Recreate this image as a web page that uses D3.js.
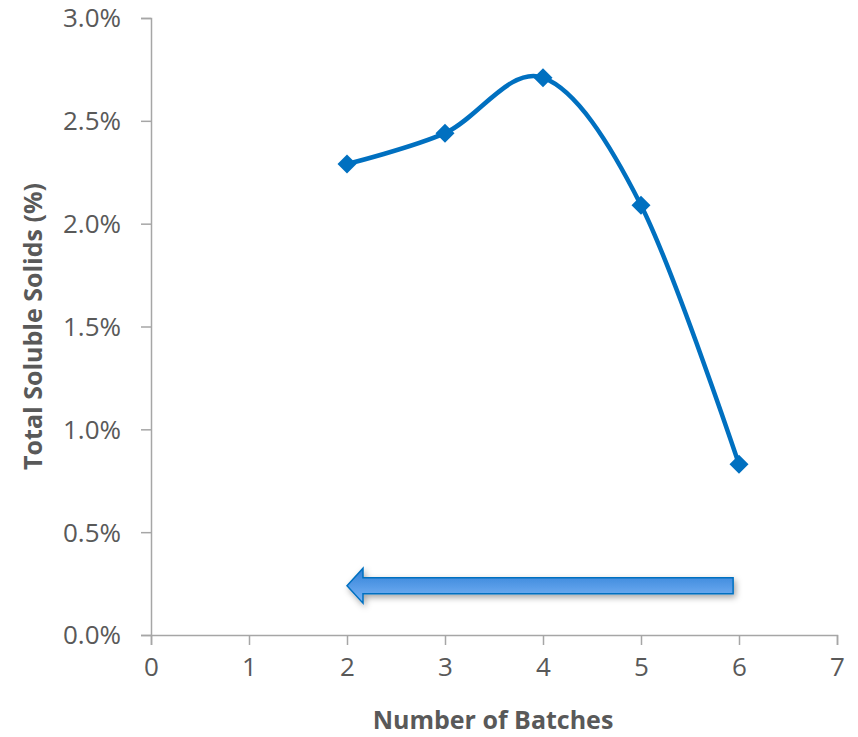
<!DOCTYPE html>
<html>
<head>
<meta charset="utf-8">
<script src="https://cdn.jsdelivr.net/npm/d3@7"></script>
<style>
  body { margin: 0; background: #fff; }
  svg text { font-family: "Open Sans", "Liberation Sans", sans-serif; fill: #595959; }
</style>
</head>
<body>
<div id="chart"></div>
<script>
// data
const batches = [2, 3, 4, 5, 6];
const solids = [0.0229, 0.0244, 0.0271, 0.0209, 0.0083];
const xTicks = [0, 1, 2, 3, 4, 5, 6, 7];
const yTicks = [0, 0.005, 0.01, 0.015, 0.02, 0.025, 0.03];
// arrow annotation: from batch 5.94 back to batch 2 at ~0.24%
const arrowFrom = [5.94, 0.0024];
const arrowTo = [2, 0.0024];

const width = 858, height = 737;
const margin = { top: 18, right: 21, bottom: 102, left: 151 };

const svg = d3.select("#chart").append("svg")
  .attr("width", width)
  .attr("height", height);

const x = d3.scaleLinear().domain([0, 7]).range([margin.left, width - margin.right]);
const y = d3.scaleLinear().domain([0, 0.03]).range([height - margin.bottom, margin.top]);

// axes
const xAxis = svg.append("g")
  .attr("transform", `translate(0,${y(0)})`)
  .call(d3.axisBottom(x).tickValues(xTicks).tickFormat(d3.format("d")).tickSize(10).tickPadding(13));

const yAxis = svg.append("g")
  .attr("transform", `translate(${x(0)},0)`)
  .call(d3.axisLeft(y).tickValues(yTicks).tickFormat(d3.format(".1%")).tickSize(10).tickPadding(20));

[xAxis, yAxis].forEach(g => {
  g.select(".domain").attr("stroke", "#a6a6a6").attr("stroke-width", 1.5);
  g.selectAll(".tick line").attr("stroke", "#a6a6a6").attr("stroke-width", 1.5);
  g.selectAll(".tick text").style("font-size", "26px").attr("fill", "#595959");
});
yAxis.selectAll(".tick text").attr("dy", "0.34em");

// axis titles
svg.append("text")
  .attr("x", (x(0) + x(7)) / 2 - 1)
  .attr("y", 729)
  .attr("text-anchor", "middle")
  .style("font-size", "25px")
  .style("font-weight", "bold")
  .text("Number of Batches");

svg.append("text")
  .attr("transform", `translate(42,${(y(0) + y(0.03)) / 2}) rotate(-90)`)
  .attr("text-anchor", "middle")
  .style("font-size", "25px")
  .style("font-weight", "bold")
  .text("Total Soluble Solids (%)");

// smoothed line
const line = d3.line()
  .x((d, i) => x(batches[i]))
  .y(d => y(d))
  .curve(d3.curveCardinal.tension(0));

svg.append("path")
  .datum(solids)
  .attr("fill", "none")
  .attr("stroke", "#0070c0")
  .attr("stroke-width", 4.5)
  .attr("d", line);

svg.selectAll(".marker")
  .data(solids)
  .enter()
  .append("path")
  .attr("class", "marker")
  .attr("d", d3.symbol().type(d3.symbolDiamond2).size(230))
  .attr("transform", (d, i) => `translate(${x(batches[i])},${y(d)})`)
  .attr("fill", "#0070c0");

// arrow annotation
const defs = svg.append("defs");
const grad = defs.append("linearGradient")
  .attr("id", "arrowFill")
  .attr("x1", 0).attr("y1", 0).attr("x2", 0).attr("y2", 1);
grad.append("stop").attr("offset", "0%").attr("stop-color", "#2f7fd6");
grad.append("stop").attr("offset", "100%").attr("stop-color", "#7cb6f7");

const shadow = defs.append("filter").attr("id", "shadow")
  .attr("x", "-10%").attr("y", "-50%").attr("width", "120%").attr("height", "200%");
shadow.append("feDropShadow")
  .attr("dx", 2).attr("dy", 3).attr("stdDeviation", 3)
  .attr("flood-color", "#000").attr("flood-opacity", 0.35);

const ax0 = x(arrowTo[0]), ax1 = x(arrowFrom[0]), ay = y(arrowTo[1]);
const shaftHalf = 8, headHalf = 17.5, headLen = 16;
const arrowPts = [
  [ax0, ay],
  [ax0 + headLen, ay - headHalf],
  [ax0 + headLen, ay - shaftHalf],
  [ax1, ay - shaftHalf],
  [ax1, ay + shaftHalf],
  [ax0 + headLen, ay + shaftHalf],
  [ax0 + headLen, ay + headHalf]
];

svg.append("path")
  .attr("d", d3.line()(arrowPts) + "Z")
  .attr("fill", "url(#arrowFill)")
  .attr("stroke", "#0070c0")
  .attr("stroke-width", 1.5)
  .attr("filter", "url(#shadow)");
</script>
</body>
</html>
